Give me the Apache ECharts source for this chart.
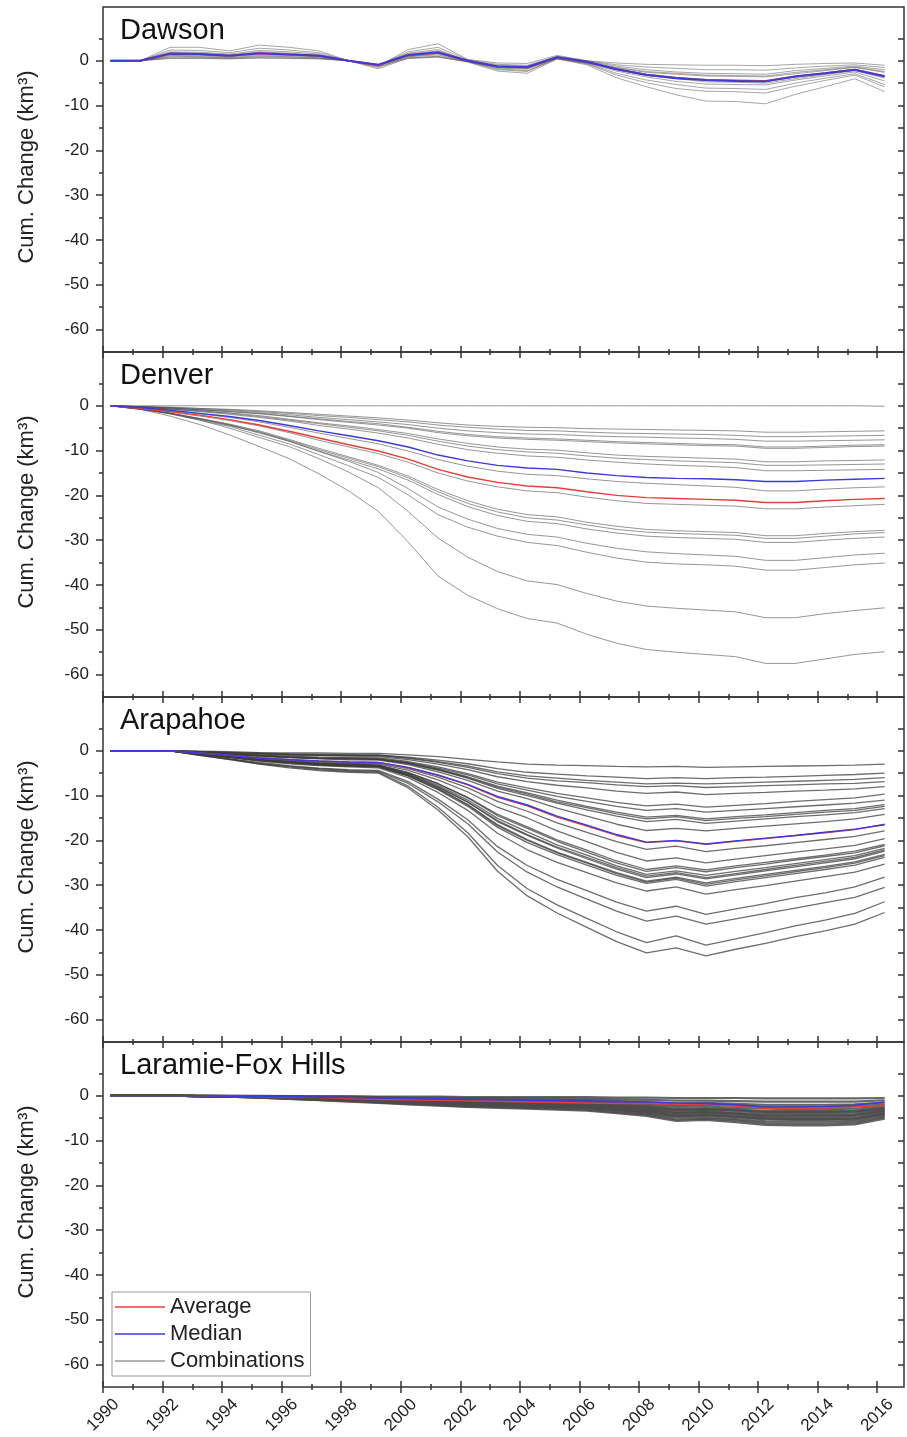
<!DOCTYPE html>
<html><head><meta charset="utf-8">
<script src="https://cdn.jsdelivr.net/npm/echarts@6/dist/echarts.min.js"></script>
<style>html,body{margin:0;padding:0;background:#fff}#c{width:907px;height:1437px}</style>
</head><body><div id="c"></div>
<script>
const YEARS = [1990.25,1991.25,1992.25,1993.25,1994.25,1995.25,1996.25,1997.25,1998.25,1999.25,2000.25,2001.25,2002.25,2003.25,2004.25,2005.25,2006.25,2007.25,2008.25,2009.25,2010.25,2011.25,2012.25,2013.25,2014.25,2015.25,2016.25];
const PANEL_NAMES = ['Dawson','Denver','Arapahoe','Laramie-Fox Hills'];
const X_TICKS = [1990,1992,1994,1996,1998,2000,2002,2004,2006,2008,2010,2012,2014,2016];
const X_MINOR = [1991,1993,1995,1997,1999,2001,2003,2005,2007,2009,2011,2013,2015];
const Y_TICKS = [-60,-50,-40,-30,-20,-10,0];
const Y_MINOR = [-55,-45,-35,-25,-15,-5,5];
const Y_LABEL = 'Cum. Change (km\u00B3)';
const LEGEND_NAMES = ['Average','Median','Combinations'];

// ---- Dawson ----
const DAWSON_AVG = [0,0,1.5,1.4,1.1,1.7,1.4,1.1,0,-1.0,1.2,1.8,0,-1.3,-1.5,0.7,-0.3,-1.9,-3.1,-3.8,-4.3,-4.4,-4.5,-3.5,-2.8,-2.0,-3.4];
const DAWSON_MED = [0,0,1.6,1.5,1.1,1.7,1.4,1.1,0,-0.9,1.3,1.9,0,-1.3,-1.4,0.8,-0.2,-1.9,-3.1,-3.9,-4.3,-4.5,-4.6,-3.5,-2.8,-2.0,-3.5];
const DAWSON_COMBOS = [
 [0,0,3.0,3.0,2.2,3.5,3.0,2.2,0,-1.2,2.5,3.8,0.3,-0.5,-0.6,1.2,0,-0.5,-0.8,-0.9,-1.0,-1.0,-1.1,-0.8,-0.6,-0.5,-1.0],
 [0,0,2.4,2.3,1.8,2.8,2.4,1.8,0,-1.0,2.0,3.0,0.2,-0.8,-1.0,1.0,0,-0.9,-1.4,-1.7,-2.0,-2.0,-2.1,-1.6,-1.2,-0.9,-1.5],
 [0,0,2.0,1.9,1.5,2.3,2.0,1.5,0,-1.0,1.7,2.5,0,-1.0,-1.2,0.9,-0.1,-1.2,-2.0,-2.5,-2.8,-2.9,-3.0,-2.2,-1.7,-1.2,-2.0],
 [0,0,1.8,1.7,1.3,2.0,1.7,1.3,0,-0.9,1.5,2.2,0,-1.2,-1.5,0.8,-0.2,-1.5,-2.4,-2.8,-3.2,-3.3,-3.4,-2.6,-2.0,-1.4,-2.4],
 [0,0,1.5,1.4,1.1,1.6,1.4,1.1,0,-1.1,1.2,1.8,-0.1,-1.4,-1.6,0.7,-0.4,-2.0,-3.3,-4.0,-4.7,-4.8,-5.0,-4.0,-3.1,-2.2,-3.9],
 [0,0,1.2,1.1,0.9,1.3,1.1,0.9,0,-0.8,1.0,1.5,0,-1.5,-1.7,0.7,-0.3,-1.6,-2.6,-3.0,-3.4,-3.5,-3.6,-2.9,-2.2,-1.5,-2.6],
 [0,0,1.0,0.9,0.7,1.1,0.9,0.7,0,-1.5,0.9,1.3,-0.2,-2.0,-2.4,0.6,-0.7,-3.2,-4.9,-6.2,-6.8,-6.9,-7.2,-5.7,-4.4,-3.2,-5.8],
 [0,0,0.8,0.8,0.6,0.9,0.8,0.6,0,-1.0,0.7,1.0,-0.1,-1.6,-1.9,0.5,-0.5,-2.3,-3.6,-4.6,-5.2,-5.3,-5.4,-4.3,-3.4,-2.5,-4.5],
 [0,0,0.6,0.6,0.5,0.7,0.6,0.5,0,-1.3,0.5,0.8,-0.2,-1.8,-2.2,0.4,-0.6,-2.8,-4.3,-5.3,-6.1,-6.2,-6.4,-5.0,-3.9,-2.9,-5.3],
 [0,0,0.5,0.5,0.4,0.6,0.5,0.4,0,-1.8,0.6,0.9,-0.3,-2.3,-2.8,0.4,-0.9,-3.8,-5.8,-7.6,-9.0,-9.1,-9.6,-7.5,-5.8,-4.0,-6.9]
];

// ---- Denver ----
const DENVER_AVG = [0,-0.6,-1.3,-2.1,-3.1,-4.3,-5.7,-7.2,-8.7,-10.1,-11.9,-14.2,-15.9,-17.1,-17.9,-18.3,-19.2,-20.0,-20.5,-20.7,-20.9,-21.1,-21.6,-21.6,-21.2,-20.9,-20.7];
const DENVER_MED = [0,-0.4,-1.0,-1.7,-2.4,-3.3,-4.4,-5.6,-6.7,-7.8,-9.2,-11.0,-12.3,-13.3,-13.9,-14.2,-15.0,-15.6,-16.0,-16.2,-16.3,-16.5,-16.9,-16.9,-16.6,-16.4,-16.2];
const DENVER_COMBOS = [
 [0,0,0,0,0,0,0,0,0,0,0,0,0,0,0,0,0,0,0,0,0,0,0,0,0,0,-0.1],
 [0,-0.2,-0.3,-0.6,-0.8,-1.1,-1.5,-1.9,-2.3,-2.7,-3.2,-3.8,-4.3,-4.6,-4.8,-4.9,-5.1,-5.2,-5.3,-5.4,-5.5,-5.6,-5.9,-5.9,-5.8,-5.7,-5.6],
 [0,-0.2,-0.4,-0.6,-0.9,-1.3,-1.7,-2.2,-2.6,-3.1,-3.6,-4.3,-4.8,-5.2,-5.5,-5.6,-5.9,-6.1,-6.2,-6.3,-6.4,-6.6,-6.9,-6.9,-6.8,-6.7,-6.6],
 [0,-0.2,-0.5,-0.8,-1.1,-1.5,-2.0,-2.6,-3.1,-3.6,-4.2,-5.0,-5.6,-6.0,-6.3,-6.4,-6.7,-6.9,-7.0,-7.2,-7.3,-7.5,-7.9,-7.9,-7.8,-7.7,-7.6],
 [0,-0.2,-0.5,-0.9,-1.3,-1.7,-2.3,-2.9,-3.5,-4.0,-4.8,-5.7,-6.4,-6.9,-7.2,-7.4,-7.7,-8.0,-8.2,-8.4,-8.6,-8.7,-9.2,-9.2,-9.0,-8.8,-8.7],
 [0,-0.2,-0.5,-0.9,-1.3,-1.8,-2.4,-3.1,-3.7,-4.3,-5.0,-6.0,-6.7,-7.2,-7.5,-7.7,-8.0,-8.3,-8.5,-8.7,-8.9,-9.0,-9.5,-9.5,-9.3,-9.1,-9.0],
 [0,-0.3,-0.7,-1.1,-1.6,-2.2,-3.0,-3.8,-4.5,-5.3,-6.2,-7.4,-8.4,-9.2,-9.7,-9.9,-10.5,-11.0,-11.3,-11.5,-11.7,-11.9,-12.5,-12.5,-12.3,-12.2,-12.1],
 [0,-0.3,-0.7,-1.2,-1.7,-2.4,-3.2,-4.0,-4.8,-5.6,-6.6,-7.9,-9.0,-9.8,-10.3,-10.6,-11.2,-11.7,-12.0,-12.3,-12.5,-12.7,-13.3,-13.3,-13.2,-13.1,-13.0],
 [0,-0.3,-0.8,-1.3,-1.9,-2.6,-3.4,-4.4,-5.2,-6.1,-7.2,-8.6,-9.8,-10.6,-11.2,-11.5,-12.1,-12.6,-13.0,-13.3,-13.5,-13.8,-14.5,-14.5,-14.4,-14.3,-14.2],
 [0,-0.5,-1.1,-1.8,-2.6,-3.6,-4.8,-6.1,-7.3,-8.5,-10.1,-12.0,-13.5,-14.6,-15.3,-15.6,-16.3,-16.9,-17.3,-17.6,-17.9,-18.2,-19.0,-19.0,-18.6,-18.3,-18.1],
 [0,-0.6,-1.4,-2.3,-3.3,-4.5,-6.0,-7.7,-9.2,-10.7,-12.6,-15.0,-16.8,-18.1,-19.0,-19.4,-20.4,-21.2,-21.8,-22.0,-22.2,-22.4,-23.0,-23.0,-22.6,-22.3,-22.0],
 [0,-0.7,-1.7,-2.8,-4.1,-5.6,-7.5,-9.5,-11.4,-13.3,-15.7,-18.7,-21.2,-23.1,-24.3,-24.8,-26.0,-26.9,-27.6,-27.9,-28.1,-28.3,-29.0,-29.0,-28.5,-28.1,-27.8],
 [0,-0.8,-1.7,-2.9,-4.2,-5.8,-7.7,-9.8,-11.7,-13.6,-16.1,-19.2,-21.8,-23.7,-25.0,-25.5,-26.6,-27.6,-28.2,-28.5,-28.7,-28.9,-29.6,-29.6,-29.1,-28.6,-28.3],
 [0,-0.8,-1.8,-3.0,-4.4,-5.9,-7.9,-10.1,-12.1,-14.1,-16.6,-19.8,-22.5,-24.5,-25.8,-26.3,-27.5,-28.4,-29.1,-29.4,-29.6,-29.8,-30.5,-30.5,-30.0,-29.6,-29.3],
 [0,-0.7,-1.6,-2.9,-4.3,-6.1,-7.9,-10.2,-12.4,-14.9,-18.5,-22.6,-25.3,-27.4,-28.7,-29.3,-30.7,-31.8,-32.6,-33.0,-33.3,-33.6,-34.5,-34.5,-33.9,-33.3,-32.9],
 [0,-0.7,-1.7,-3.2,-4.6,-6.6,-8.5,-10.9,-13.4,-16.0,-19.9,-24.3,-27.1,-29.1,-30.5,-31.2,-32.7,-34.0,-34.9,-35.3,-35.5,-35.8,-36.7,-36.7,-36.1,-35.5,-35.1],
 [0,-0.6,-1.8,-3.2,-5.0,-7.1,-9.1,-11.8,-14.8,-18.3,-23.6,-29.5,-33.8,-37.0,-39.1,-39.9,-41.9,-43.6,-44.7,-45.2,-45.6,-46.0,-47.3,-47.3,-46.4,-45.7,-45.1],
 [0,-0.8,-2.3,-4.2,-6.5,-9.1,-11.8,-15.2,-19.0,-23.6,-30.4,-38.0,-42.3,-45.3,-47.5,-48.5,-51.0,-53.0,-54.4,-55.0,-55.5,-56.0,-57.5,-57.5,-56.5,-55.5,-54.9]
];

// ---- Arapahoe ----
const ARAPAHOE_AVG = [0,0,0,-0.5,-1.0,-1.6,-2.0,-2.3,-2.5,-2.6,-3.8,-5.5,-7.6,-10.4,-12.3,-14.8,-16.8,-18.9,-20.5,-20.1,-20.9,-20.2,-19.6,-18.9,-18.3,-17.6,-16.4];
const ARAPAHOE_MED = [0,0,0,-0.5,-1.0,-1.6,-2.0,-2.3,-2.5,-2.6,-3.7,-5.4,-7.5,-10.2,-12.1,-14.6,-16.6,-18.7,-20.4,-20.0,-20.8,-20.1,-19.5,-18.9,-18.2,-17.5,-16.5];
const ARAPAHOE_COMBOS = [
 [0,0,0,-0.1,-0.2,-0.4,-0.5,-0.5,-0.6,-0.6,-0.9,-1.3,-1.9,-2.5,-3.0,-3.2,-3.3,-3.5,-3.6,-3.5,-3.7,-3.6,-3.5,-3.4,-3.3,-3.2,-3.0],
 [0,0,0,-0.2,-0.4,-0.5,-0.7,-0.8,-0.9,-0.9,-1.4,-2.1,-2.9,-4.0,-4.8,-5.2,-5.6,-5.9,-6.2,-6.0,-6.2,-6.0,-5.9,-5.7,-5.5,-5.3,-5.0],
 [0,0,0,-0.2,-0.4,-0.6,-0.8,-0.9,-1.0,-1.0,-1.6,-2.4,-3.4,-4.7,-5.6,-6.1,-6.6,-7.0,-7.4,-7.2,-7.4,-7.2,-7.0,-6.8,-6.6,-6.4,-6.0],
 [0,0,0,-0.2,-0.4,-0.7,-0.8,-1.0,-1.0,-1.1,-1.7,-2.6,-3.7,-5.1,-6.1,-6.7,-7.1,-7.6,-8.0,-7.8,-8.2,-8.0,-7.8,-7.6,-7.4,-7.3,-6.9],
 [0,0,0,-0.3,-0.5,-0.8,-1.0,-1.1,-1.2,-1.3,-2.0,-3.0,-4.2,-5.8,-6.9,-7.7,-8.3,-9.0,-9.5,-9.2,-9.8,-9.5,-9.3,-9.0,-8.8,-8.5,-8.0],
 [0,0,0,-0.3,-0.6,-1.0,-1.2,-1.4,-1.5,-1.6,-2.4,-3.6,-5.1,-7.0,-8.3,-9.5,-10.5,-11.5,-12.3,-11.9,-12.6,-12.2,-11.8,-11.3,-10.9,-10.5,-9.7],
 [0,0,0,-0.4,-0.7,-1.1,-1.4,-1.6,-1.7,-1.8,-2.6,-3.9,-5.4,-7.4,-8.8,-10.2,-11.3,-12.4,-13.3,-12.9,-13.7,-13.3,-12.9,-12.5,-12.1,-11.7,-11.0],
 [0,0,0,-0.4,-0.7,-1.1,-1.4,-1.6,-1.7,-1.8,-2.7,-4.1,-5.8,-7.9,-9.4,-11.0,-12.4,-13.7,-14.8,-14.4,-15.2,-14.7,-14.3,-13.8,-13.3,-12.9,-12.0],
 [0,0,0,-0.4,-0.8,-1.1,-1.4,-1.7,-1.8,-1.9,-2.8,-4.2,-6.0,-8.1,-9.7,-11.4,-12.7,-14.1,-15.2,-14.7,-15.6,-15.1,-14.7,-14.2,-13.7,-13.3,-12.4],
 [0,0,0,-0.4,-0.8,-1.1,-1.4,-1.7,-1.8,-1.9,-2.9,-4.3,-6.1,-8.4,-10.0,-11.7,-13.2,-14.6,-15.8,-15.3,-16.2,-15.7,-15.2,-14.7,-14.3,-13.8,-12.9],
 [0,0,0,-0.4,-0.8,-1.3,-1.6,-1.8,-2.0,-2.1,-3.1,-4.7,-6.6,-9.0,-10.7,-12.8,-14.6,-16.4,-17.8,-17.3,-17.9,-17.3,-16.8,-16.3,-15.8,-15.2,-14.2],
 [0,0,0,-0.5,-1.1,-1.6,-2.0,-2.4,-2.6,-2.7,-4.0,-5.9,-8.3,-11.3,-13.5,-16.1,-18.2,-20.3,-22.0,-21.3,-22.5,-21.8,-21.2,-20.5,-19.8,-19.1,-17.9],
 [0,0,0,-0.6,-1.2,-1.7,-2.2,-2.6,-2.8,-2.9,-4.4,-6.5,-9.2,-12.6,-15.0,-17.9,-20.3,-22.7,-24.6,-23.9,-25.0,-24.2,-23.4,-22.6,-21.9,-21.1,-19.6],
 [0,0,0,-0.6,-1.3,-1.9,-2.4,-2.8,-3.0,-3.2,-4.9,-7.3,-10.4,-14.2,-17.0,-19.9,-22.2,-24.6,-26.5,-25.7,-26.6,-25.7,-24.9,-24.1,-23.3,-22.4,-20.9],
 [0,0,0,-0.6,-1.3,-1.9,-2.4,-2.8,-3.0,-3.2,-4.9,-7.4,-10.5,-14.5,-17.3,-20.2,-22.6,-25.0,-26.9,-26.1,-27.0,-26.1,-25.3,-24.4,-23.6,-22.8,-21.2],
 [0,0,0,-0.7,-1.3,-2.0,-2.5,-2.9,-3.1,-3.3,-5.1,-7.7,-11.0,-15.1,-18.1,-21.0,-23.3,-25.7,-27.6,-26.8,-27.8,-26.9,-26.1,-25.2,-24.3,-23.4,-21.8],
 [0,0,0,-0.7,-1.4,-2.0,-2.6,-3.0,-3.2,-3.4,-5.2,-8.0,-11.4,-15.6,-18.7,-21.5,-23.8,-26.1,-28.0,-27.2,-28.3,-27.4,-26.5,-25.6,-24.7,-23.8,-22.1],
 [0,0,0,-0.7,-1.4,-2.0,-2.6,-3.0,-3.2,-3.4,-5.3,-8.1,-11.5,-15.8,-18.9,-21.7,-24.1,-26.4,-28.3,-27.5,-28.6,-27.7,-26.8,-25.9,-25.0,-24.1,-22.4],
 [0,0,0,-0.7,-1.4,-2.1,-2.6,-3.1,-3.3,-3.5,-5.5,-8.4,-12.0,-16.5,-19.8,-22.6,-24.9,-27.2,-29.1,-28.2,-29.5,-28.5,-27.6,-26.7,-25.8,-24.8,-23.1],
 [0,0,0,-0.7,-1.4,-2.2,-2.7,-3.2,-3.4,-3.6,-5.6,-8.5,-12.1,-16.7,-20.0,-22.8,-25.1,-27.4,-29.3,-28.4,-29.8,-28.8,-27.9,-27.0,-26.1,-25.1,-23.4],
 [0,0,0,-0.7,-1.4,-2.2,-2.7,-3.2,-3.4,-3.6,-5.6,-8.7,-12.4,-17.1,-20.5,-23.2,-25.5,-27.8,-29.6,-28.7,-30.2,-29.2,-28.3,-27.4,-26.5,-25.5,-23.8],
 [0,0,0,-0.8,-1.5,-2.3,-2.9,-3.3,-3.6,-3.8,-6.0,-9.3,-13.3,-18.4,-22.1,-24.9,-27.2,-29.5,-31.3,-30.4,-32.0,-31.0,-30.1,-29.1,-28.1,-27.1,-25.3],
 [0,0,0,-0.9,-1.8,-2.6,-3.3,-3.9,-4.2,-4.4,-6.9,-10.8,-15.4,-21.4,-25.6,-28.7,-31.2,-33.8,-35.8,-34.7,-36.5,-35.3,-34.1,-32.8,-31.7,-30.4,-28.2],
 [0,0,0,-0.9,-1.8,-2.8,-3.5,-4.0,-4.4,-4.6,-7.3,-11.4,-16.3,-22.6,-27.1,-30.4,-33.1,-35.8,-38.0,-36.9,-38.7,-37.5,-36.3,-35.1,-33.9,-32.7,-30.5],
 [0,0,0,-1.0,-1.9,-2.9,-3.6,-4.2,-4.6,-4.8,-7.9,-12.6,-18.3,-25.6,-30.8,-34.4,-37.4,-40.4,-42.8,-41.3,-43.4,-42.0,-40.6,-39.1,-37.8,-36.3,-33.7],
 [0,0,0,-1.0,-2.0,-3.0,-3.8,-4.4,-4.8,-5.0,-8.3,-13.2,-19.2,-26.9,-32.4,-36.2,-39.4,-42.6,-45.1,-44.0,-45.8,-44.3,-43.0,-41.5,-40.2,-38.7,-36.1]
];

// ---- Laramie-Fox Hills ----
const LFH_AVG = [0,0,0,0,-0.1,-0.2,-0.3,-0.4,-0.6,-0.8,-0.9,-1.0,-1.1,-1.2,-1.4,-1.5,-1.6,-1.7,-1.7,-1.9,-2.0,-2.3,-2.8,-2.8,-2.7,-2.5,-2.1];
const LFH_MED = [0,0,0,0,-0.1,-0.1,-0.2,-0.3,-0.4,-0.5,-0.6,-0.7,-0.8,-0.9,-1.0,-1.1,-1.2,-1.3,-1.4,-1.6,-1.7,-2.0,-2.5,-2.5,-2.4,-2.1,-1.4];
const LFH_COMBOS = [
 [0,0,0,0,0,0,-0.1,-0.1,-0.1,-0.2,-0.2,-0.2,-0.3,-0.3,-0.3,-0.3,-0.3,-0.4,-0.4,-0.5,-0.5,-0.5,-0.6,-0.6,-0.6,-0.6,-0.5],
 [0,0,0,0,0,-0.1,-0.1,-0.2,-0.3,-0.3,-0.4,-0.4,-0.5,-0.5,-0.6,-0.6,-0.7,-0.8,-0.9,-1.1,-1.1,-1.2,-1.3,-1.3,-1.3,-1.3,-1.0],
 [0,0,0,0,-0.1,-0.1,-0.2,-0.3,-0.4,-0.5,-0.6,-0.7,-0.8,-0.8,-0.9,-0.9,-1.0,-1.2,-1.4,-1.7,-1.6,-1.8,-2.0,-2.0,-2.0,-1.9,-1.5],
 [0,0,0,0,-0.1,-0.1,-0.3,-0.4,-0.5,-0.6,-0.7,-0.8,-0.9,-1.0,-1.1,-1.1,-1.2,-1.4,-1.7,-2.1,-2.0,-2.2,-2.4,-2.4,-2.4,-2.4,-1.9],
 [0,0,0,0,-0.1,-0.2,-0.3,-0.5,-0.6,-0.7,-0.9,-1.0,-1.1,-1.2,-1.3,-1.4,-1.5,-1.8,-2.0,-2.5,-2.4,-2.7,-2.9,-3.0,-3.0,-2.9,-2.3],
 [0,0,0,-0.1,-0.1,-0.2,-0.4,-0.5,-0.7,-0.8,-1.0,-1.1,-1.3,-1.4,-1.5,-1.6,-1.7,-2.0,-2.3,-2.9,-2.8,-3.1,-3.4,-3.4,-3.4,-3.3,-2.7],
 [0,0,0,-0.1,-0.1,-0.2,-0.4,-0.6,-0.7,-0.9,-1.0,-1.2,-1.4,-1.5,-1.6,-1.7,-1.8,-2.1,-2.5,-3.1,-3.0,-3.2,-3.6,-3.6,-3.6,-3.5,-2.8],
 [0,0,0,-0.1,-0.1,-0.2,-0.4,-0.6,-0.8,-0.9,-1.1,-1.3,-1.5,-1.6,-1.7,-1.8,-1.9,-2.3,-2.6,-3.2,-3.1,-3.4,-3.8,-3.8,-3.8,-3.7,-3.0],
 [0,0,0,-0.1,-0.1,-0.3,-0.4,-0.6,-0.8,-1.0,-1.2,-1.4,-1.6,-1.7,-1.9,-2.0,-2.1,-2.5,-2.9,-3.6,-3.5,-3.8,-4.2,-4.2,-4.2,-4.1,-3.3],
 [0,0,0,-0.1,-0.1,-0.3,-0.5,-0.7,-0.9,-1.1,-1.3,-1.5,-1.7,-1.8,-1.9,-2.1,-2.2,-2.6,-3.0,-3.8,-3.6,-4.0,-4.4,-4.4,-4.4,-4.3,-3.4],
 [0,0,0,-0.1,-0.1,-0.3,-0.5,-0.7,-0.9,-1.1,-1.3,-1.5,-1.8,-1.9,-2.0,-2.2,-2.3,-2.7,-3.2,-3.9,-3.8,-4.1,-4.6,-4.6,-4.6,-4.5,-3.6],
 [0,0,0,-0.1,-0.2,-0.3,-0.5,-0.8,-1.0,-1.2,-1.4,-1.7,-1.9,-2.1,-2.2,-2.4,-2.5,-3.0,-3.4,-4.3,-4.1,-4.5,-4.9,-5.0,-5.0,-4.9,-3.9],
 [0,0,0,-0.1,-0.2,-0.3,-0.6,-0.8,-1.0,-1.3,-1.5,-1.7,-2.0,-2.1,-2.3,-2.4,-2.6,-3.1,-3.6,-4.4,-4.3,-4.7,-5.1,-5.2,-5.2,-5.1,-4.0],
 [0,0,0,-0.1,-0.2,-0.3,-0.6,-0.8,-1.1,-1.3,-1.6,-1.8,-2.1,-2.2,-2.4,-2.5,-2.7,-3.2,-3.7,-4.6,-4.4,-4.8,-5.3,-5.4,-5.4,-5.2,-4.2],
 [0,0,0,-0.1,-0.2,-0.4,-0.6,-0.9,-1.1,-1.4,-1.7,-1.9,-2.2,-2.4,-2.6,-2.7,-2.9,-3.4,-4.0,-4.9,-4.8,-5.2,-5.7,-5.8,-5.8,-5.6,-4.5],
 [0,0,0,-0.1,-0.2,-0.4,-0.7,-0.9,-1.2,-1.5,-1.8,-2.1,-2.4,-2.5,-2.7,-2.9,-3.1,-3.7,-4.2,-5.3,-5.1,-5.5,-6.1,-6.2,-6.2,-6.0,-4.8],
 [0,0,0,-0.1,-0.2,-0.4,-0.7,-1.0,-1.3,-1.6,-1.9,-2.2,-2.5,-2.7,-2.9,-3.1,-3.3,-3.9,-4.5,-5.6,-5.4,-5.9,-6.5,-6.6,-6.6,-6.4,-5.1]
];

const FONT = "'Liberation Sans', Arial, sans-serif";
const AXIS_COLOR = '#333';
const RED = '#e2403a', BLUE = '#3b3bd8';
const PANELS = [
  {combos: DAWSON_COMBOS, avg: DAWSON_AVG, med: DAWSON_MED, cc: 'rgba(80,80,80,0.5)', cw: 1, mw: 2},
  {combos: DENVER_COMBOS, avg: DENVER_AVG, med: DENVER_MED, cc: 'rgba(80,80,80,0.6)', cw: 1, mw: 1.4},
  {combos: ARAPAHOE_COMBOS, avg: ARAPAHOE_AVG, med: ARAPAHOE_MED, cc: 'rgba(60,60,60,0.75)', cw: 1.3, mw: 1.4},
  {combos: LFH_COMBOS, avg: LFH_AVG, med: LFH_MED, cc: 'rgba(75,75,75,0.85)', cw: 2.2, mw: 1.6}
];

const TOP0 = 7, PH = 345;
const grids = [], xAxes = [], yAxes = [], series = [], graphics = [];
const pts = vals => YEARS.map((y, i) => [y, vals[i]]);

PANELS.forEach((p, i) => {
  grids.push({left: 103, width: 801, top: TOP0 + PH * i, height: PH, show: true,
    borderColor: AXIS_COLOR, borderWidth: 1.5, backgroundColor: 'transparent'});
  const xb = {type: 'value', gridIndex: i, min: 1990, max: 2016.9, position: 'bottom',
    splitLine: {show: false}, axisLine: {show: false, onZero: false}};
  const tl = {color: AXIS_COLOR, width: 1.5};
  xAxes.push(Object.assign({}, xb, {
    axisTick: {show: true, inside: true, length: 6, customValues: X_TICKS, lineStyle: tl},
    axisLabel: i === 3 ? {show: true, customValues: X_TICKS, rotate: 45, align: 'center', verticalAlign: 'middle',
      margin: 28, fontSize: 17, color: '#222', fontFamily: FONT, formatter: v => String(v)} : {show: false}
  }));
  xAxes.push(Object.assign({}, xb, {axisTick: {show: true, inside: false, length: 6, customValues: X_TICKS, lineStyle: tl}, axisLabel: {show: false}}));
  xAxes.push(Object.assign({}, xb, {axisTick: {show: true, inside: true, length: 3, customValues: X_MINOR, lineStyle: tl}, axisLabel: {show: false}}));
  xAxes.push(Object.assign({}, xb, {axisTick: {show: true, inside: false, length: 3, customValues: X_MINOR, lineStyle: tl}, axisLabel: {show: false}}));

  const yb = {type: 'value', gridIndex: i, min: -65, max: 12, splitLine: {show: false}, axisLine: {show: false, onZero: false}};
  yAxes.push(Object.assign({}, yb, {position: 'left',
    axisTick: {show: true, inside: false, length: 7, customValues: Y_TICKS, lineStyle: tl},
    axisLabel: {show: true, customValues: Y_TICKS, margin: 14, fontSize: 17, color: '#222', fontFamily: FONT}}));
  yAxes.push(Object.assign({}, yb, {position: 'left',
    axisTick: {show: true, inside: false, length: 4, customValues: Y_MINOR, lineStyle: tl}, axisLabel: {show: false}}));
  yAxes.push(Object.assign({}, yb, {position: 'right',
    axisTick: {show: true, inside: true, length: 6, customValues: Y_TICKS.concat(Y_MINOR), lineStyle: tl}, axisLabel: {show: false}}));

  const common = {type: 'line', xAxisIndex: 4 * i, yAxisIndex: 3 * i, showSymbol: false, symbol: 'none',
    silent: true, animation: false};
  p.combos.forEach(c => series.push(Object.assign({}, common, {name: LEGEND_NAMES[2], data: pts(c),
    lineStyle: {color: p.cc, width: p.cw}, itemStyle: {color: '#9a9a9a'}, z: 2})));
  series.push(Object.assign({}, common, {name: LEGEND_NAMES[0], data: pts(p.avg),
    lineStyle: {color: RED, width: p.mw}, itemStyle: {color: RED}, z: 3}));
  series.push(Object.assign({}, common, {name: LEGEND_NAMES[1], data: pts(p.med),
    lineStyle: {color: BLUE, width: p.mw}, itemStyle: {color: BLUE}, z: 4}));

  graphics.push({type: 'text', left: 120, top: TOP0 + PH * i + 9, z: 10,
    style: {text: PANEL_NAMES[i], fontSize: 29, fontFamily: FONT, fill: '#111'}});
  graphics.push({type: 'text', x: 27, y: 167 + PH * i, rotation: Math.PI / 2, z: 10,
    style: {text: Y_LABEL, fontSize: 22, fontFamily: FONT, fill: '#222', align: 'center', verticalAlign: 'middle'}});
});

const chart = echarts.init(document.getElementById('c'), null, {renderer: 'canvas'});
chart.setOption({
  animation: false,
  backgroundColor: '#fff',
  grid: grids, xAxis: xAxes, yAxis: yAxes, series: series, graphic: graphics,
  legend: {data: LEGEND_NAMES, orient: 'vertical', left: 112, top: 1292, icon: 'rect',
    itemWidth: 50, itemHeight: 1.5, itemGap: 5, selectedMode: false,
    textStyle: {fontSize: 22, fontFamily: FONT, color: '#222'},
    borderColor: '#999', borderWidth: 1, padding: [4, 6, 4, 3], backgroundColor: '#fff'}
});
</script></body></html>
